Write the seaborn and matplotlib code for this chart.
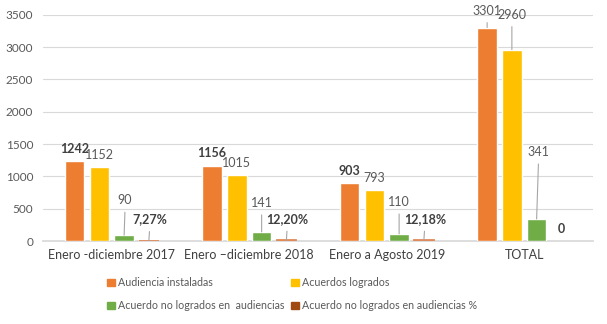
import matplotlib
matplotlib.use("Agg")
import matplotlib.pyplot as plt
from matplotlib.patches import Patch
import seaborn as sns
import pandas as pd

categories = ["Enero -diciembre 2017", "Enero \u2013diciembre 2018", "Enero a Agosto 2019", "TOTAL"]
series_names = ["Audiencia instaladas", "Acuerdos logrados",
                "Acuerdo no logrados en  audiencias", "Acuerdo no logrados en audiencias %"]
audiencias = [1242, 1156, 903, 3301]
acuerdos = [1152, 1015, 793, 2960]
no_logrados = [90, 141, 110, 341]
no_logrados_pct = [7.27, 12.20, 12.18, 0]
yticks = [0, 500, 1000, 1500, 2000, 2500, 3000, 3500]

colors = ["#ED7D31", "#FFC000", "#70AD47", "#C55A11"]

rows = []
for s, vals in zip(series_names, [audiencias, acuerdos, no_logrados, no_logrados_pct]):
    for c, v in zip(categories, vals):
        rows.append({"cat": c, "serie": s, "val": v})
df = pd.DataFrame(rows)

sns.set_theme(style="white")
plt.rcParams["font.family"] = ["Lato", "DejaVu Sans"]

fig = plt.figure(figsize=(6.07, 3.24), dpi=100)
ax = fig.add_axes([43/607, 1-241/324, 550/607, (241-14.7)/324])

sns.barplot(data=df, x="cat", y="val", hue="serie", order=categories, hue_order=series_names,
            palette=colors, width=0.72, gap=0.21, legend=False, ax=ax, saturation=1)

for cont in ax.containers:
    for bar in cont:
        bar.set_zorder(3)
# make tiny percent bars visible like the original
for bar, v in zip(ax.containers[3], no_logrados_pct):
    bar.set_edgecolor("#E08A5A")
    bar.set_facecolor("#E08A5A")
    bar.set_linewidth(1.3 if v > 0 else 0)

ax.set_ylim(0, 3500)
ax.set_yticks(yticks)
ax.set_xlabel("")
ax.set_ylabel("")
ax.grid(axis="y", color="#D9D9D9", linewidth=0.8)
ax.set_axisbelow(True)
for sp in ["top", "right", "left"]:
    ax.spines[sp].set_visible(False)
ax.spines["bottom"].set_color("#D9D9D9")
ax.spines["bottom"].set_zorder(1)
ax.tick_params(axis="y", length=0, pad=7, labelsize=8.5, labelcolor="#595959")
ax.tick_params(axis="x", length=0, pad=6, labelsize=9, labelcolor="#404040")

# label offsets (pixels above bar top, dx)
offsets = [
    [(12, 0), (12, 0), (35, 1), (21, 1)],
    [(13, 0), (12, 0), (29, 0), (21, 1)],
    [(12, 0), (12, 0), (32, 0), (21, 1)],
    [(17, 0), (35, 0), (67, 2), (12, -2)],
]
bold = [True, False, False, True]
line_min = 16

all_vals = [audiencias, acuerdos, no_logrados, no_logrados_pct]
for si, cont in enumerate(ax.containers):
    for ci, bar in enumerate(cont):
        v = all_vals[si][ci]
        if si == 3:
            txt = "0" if v == 0 else f"{v:.2f}".replace(".", ",") + "%"
        else:
            txt = f"{v:d}"
        dy, dx = offsets[ci][si]
        is_bold = bold[si] and not (si == 0 and ci == 3)
        xc = bar.get_x() + bar.get_width() / 2
        yt = bar.get_height()
        if si == 3 and v == 0:
            xc += bar.get_width() * 0.1
        arrow = None
        if dy >= line_min:
            arrow = dict(arrowstyle="-", color="#A6A6A6", lw=0.8, shrinkA=2, shrinkB=0,
                         relpos=(0.5, 0.0))
        ax.annotate(txt, xy=(xc, yt), xytext=(dx, dy), textcoords="offset pixels",
                    ha="center", va="center", fontsize=9,
                    fontweight="bold" if is_bold else "normal",
                    color="#404040" if is_bold else "#595959",
                    arrowprops=arrow, zorder=4)

handles = [Patch(color=colors[0], label=series_names[0]),
           Patch(color=colors[2], label=series_names[2]),
           Patch(color=colors[1], label=series_names[1]),
           Patch(color="#A04A12", label=series_names[3])]
fig.legend(handles=handles, loc="upper left", bbox_to_anchor=(102/607, 1-272/324), ncol=2,
           frameon=False, fontsize=7.7, handlelength=0.7, handleheight=0.7, handletextpad=0.3,
           columnspacing=0.65, labelspacing=1.1, borderpad=0, labelcolor="#595959")

fig.savefig("out.png", dpi=100)
